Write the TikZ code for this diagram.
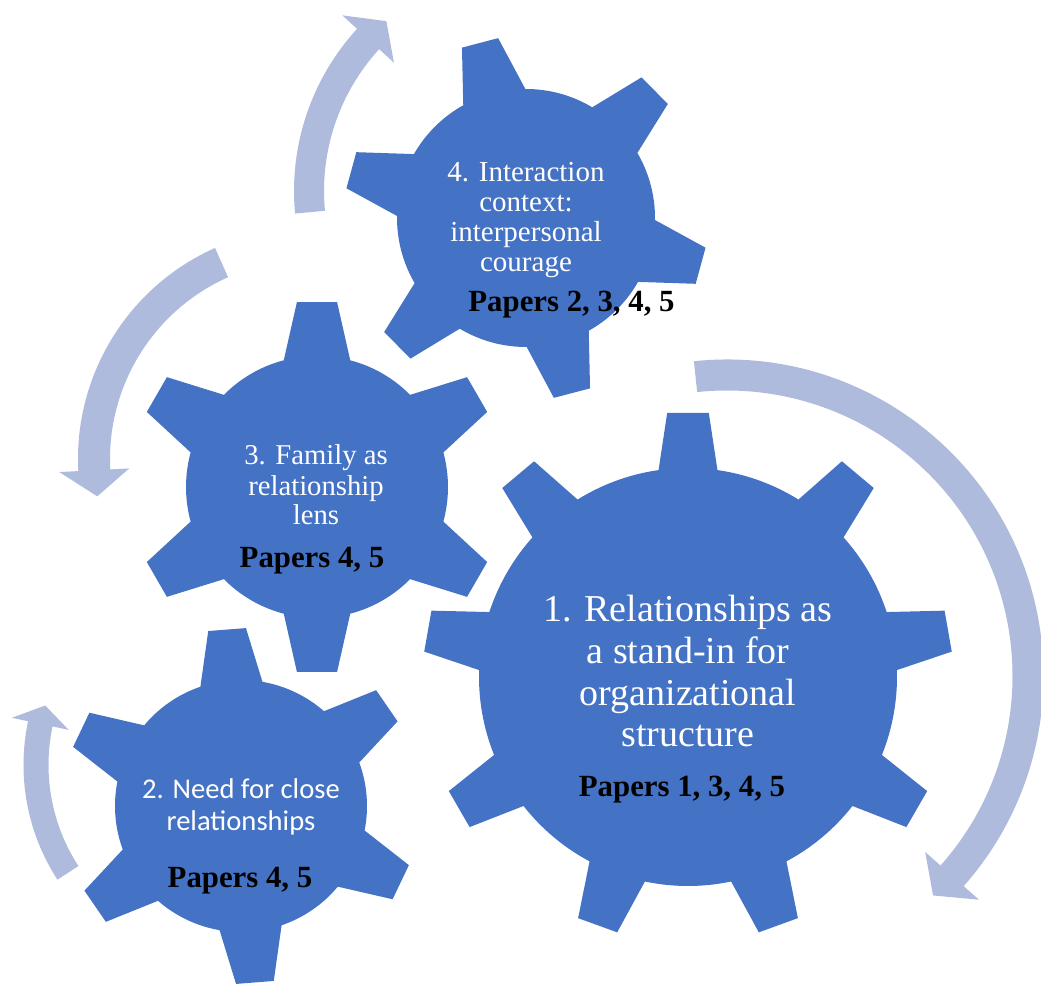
\documentclass[tikz,border=0pt]{standalone}
\usepackage{fontspec}
\setmainfont{Liberation Serif}
\newfontfamily\carlitofont{Carlito}
\definecolor{gearblue}{HTML}{4472C4}
\definecolor{arrowblue}{HTML}{AFBBDD}
\tikzset{
  gearfill/.style={fill=gearblue},
  arrowfill/.style={fill=arrowblue},
  wtext/.style={text=white, inner sep=0pt, anchor=base},
  ptext/.style={text=black, inner sep=0pt, anchor=base, font=\bfseries\fontsize{30.8}{33}\selectfont},
}
% #1 centre coordinate name, #2 root radius, #3 tip radius, #4 teeth, #5 phase, #6 base half-angle, #7 tip half-angle
\newcommand\mygear[7]{%
  \begin{scope}[shift={(#1)}]
    \fill[gearfill] ({#5-#6}:#2)
      \foreach \i [evaluate=\i as \a using #5+(\i-1)*360/#4] in {1,...,#4}{
        -- ({\a-#7}:#3) -- ({\a+#7}:#3) -- ({\a+#6}:#2)
        arc[start angle={\a+#6}, end angle={\a+360/#4-#6}, radius=#2]
      } -- cycle;
  \end{scope}}
% #1 centre coordinate name, #2 radius, #3 band width, #4 head half-width, #5 start angle, #6 head base angle, #7 tip angle
\newcommand\circarrow[7]{%
  \begin{scope}[shift={(#1)}]
    \fill[arrowfill] (#5:{#2+#3/2}) arc[start angle=#5, end angle=#6, radius={#2+#3/2}]
      -- (#6:{#2+#4}) -- (#7:#2) -- (#6:{#2-#4}) -- (#6:{#2-#3/2})
      arc[start angle=#6, end angle=#5, radius={#2-#3/2}] -- cycle;
  \end{scope}}
\begin{document}
\begin{tikzpicture}[x=1pt, y=1pt]
  \useasboundingbox (0,0) rectangle (1041,986);
  % arrow centres
  \coordinate (ca) at (727,310);
  \coordinate (cb) at (534,795);
  \coordinate (cc) at (309,527);
  \coordinate (cd) at (234,221);
  \circarrow{ca}{301}{31}{36}{96}{-41.6}{-46.8}
  \circarrow{cb}{225}{30}{35}{185.4}{137.5}{131}
  \circarrow{cc}{215}{32}{35}{114}{183}{190}
  \circarrow{cd}{198}{25}{29}{213}{168}{162.5}
  % gear centres
  \coordinate (g1) at (688,309);
  \coordinate (g2) at (241,180);
  \coordinate (g3) at (317,499);
  \coordinate (g4) at (526,768);
  \mygear{g1}{209}{265}{9}{90}{8.1}{4.5}
  \mygear{g2}{126}{178}{6}{94.5}{14.3}{6.1}
  \mygear{g3}{131}{186}{6}{90}{14.7}{6.2}
  \mygear{g4}{129}{182}{6}{104.7}{14.4}{5.9}
  % gear 1 text
  \begin{scope}[every node/.style={wtext, font=\fontsize{38}{41.6}\selectfont}]
    \node (g1a) at (688,364.4) {1. Relationships as};
    \node (g1b) at (688,323) {a stand-in for};
    \node (g1c) at (688,281) {organizational};
    \node (g1d) at (688,240) {structure};
  \end{scope}
  \node[ptext] (g1p) at (682,190) {Papers 1, 3, 4, 5};
  % gear 4 text
  \begin{scope}[every node/.style={wtext, font=\fontsize{29}{30}\selectfont}]
    \node (g4a) at (526,804) {4. Interaction};
    \node (g4b) at (526,774) {context:};
    \node (g4c) at (526,744) {interpersonal};
    \node (g4d) at (526,714) {courage};
  \end{scope}
  \node[ptext] (g4p) at (571.5,674) {Papers 2, 3, 4, 5};
  % gear 3 text
  \begin{scope}[every node/.style={wtext, font=\fontsize{28.7}{30}\selectfont}]
    \node (g3a) at (316,521) {3. Family as};
    \node (g3b) at (316,490) {relationship};
    \node (g3c) at (316,461) {lens};
  \end{scope}
  \node[ptext] (g3p) at (312,418) {Papers 4, 5};
  % gear 2 text
  \begin{scope}[every node/.style={wtext, font=\carlitofont\fontsize{28.6}{32}\selectfont}]
    \node (g2a) at (241,188) {2. Need for close};
    \node (g2b) at (241,156) {relationships};
  \end{scope}
  \node[ptext] (g2p) at (240,99) {Papers 4, 5};
\end{tikzpicture}
\end{document}
